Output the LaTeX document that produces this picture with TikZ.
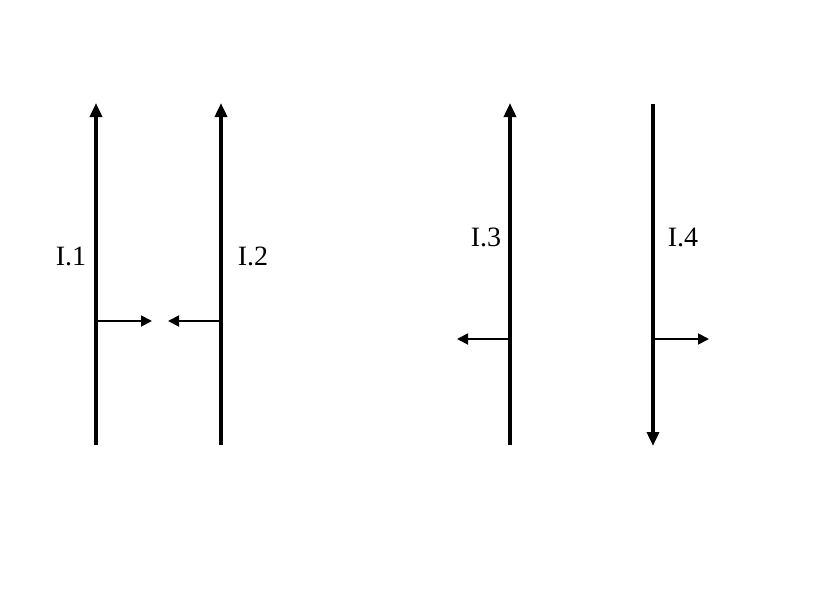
\documentclass[tikz,border=0pt]{standalone}
\usepackage{fontspec}
\setmainfont{Liberation Serif}
\usetikzlibrary{arrows.meta}
\begin{document}
\begin{tikzpicture}[x=1pt,y=-1pt,
  mainline/.style={line width=4pt},
  bigtip/.style={-{Triangle[width=12pt,length=14pt]}},
  smallarrow/.style={line width=1.8pt,-{Triangle[width=11pt,length=11pt]}},
  lbl/.style={font=\fontsize{28}{30}\selectfont,inner sep=0pt}]
\useasboundingbox (0,0) rectangle (820,610);
% line ends
\coordinate (a1) at (96,445); \coordinate (b1) at (96,103);
\coordinate (a2) at (221,445); \coordinate (b2) at (221,103);
\coordinate (a3) at (510,445); \coordinate (b3) at (510,103);
\coordinate (a4) at (653,104); \coordinate (b4) at (653,446);
% small arrow ends
\coordinate (s1) at (96,321); \coordinate (t1) at (152,321);
\coordinate (s2) at (221,321); \coordinate (t2) at (168,321);
\coordinate (s3) at (510,339); \coordinate (t3) at (457,339);
\coordinate (s4) at (653,339); \coordinate (t4) at (709,339);
\draw[mainline,bigtip] (a1) -- (b1);
\draw[mainline,bigtip] (a2) -- (b2);
\draw[mainline,bigtip] (a3) -- (b3);
\draw[mainline,bigtip] (a4) -- (b4);
\draw[smallarrow] (s1) -- (t1);
\draw[smallarrow] (s2) -- (t2);
\draw[smallarrow] (s3) -- (t3);
\draw[smallarrow] (s4) -- (t4);
\node[lbl] (l1) at (71,256) {I.1};
\node[lbl] (l2) at (253,256) {I.2};
\node[lbl] (l3) at (486,237) {I.3};
\node[lbl] (l4) at (683,237) {I.4};
\end{tikzpicture}
\end{document}
